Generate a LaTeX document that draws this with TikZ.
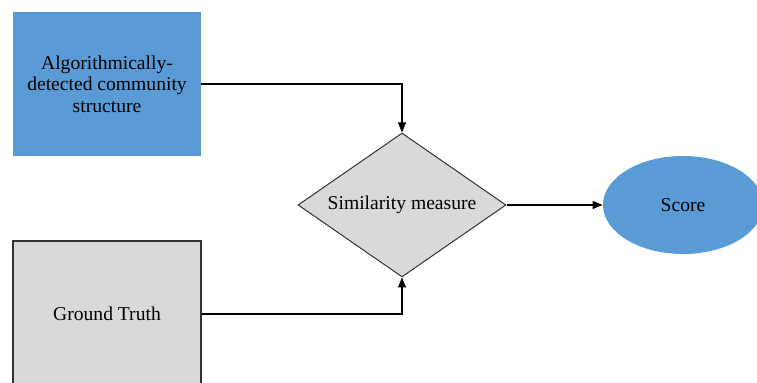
\documentclass[tikz,border=0pt]{standalone}
\usepackage{fontspec}
\setmainfont{Liberation Serif}
\usetikzlibrary{shapes.geometric,arrows.meta}
\usepackage{xcolor}

\begin{document}
\begin{tikzpicture}[x=0.5pt,y=-0.5pt,
		baseBox/.style={rectangle, inner sep=0pt, align=center, font=\fontsize{9.8}{10.8}\selectfont},
		blueBox/.style={baseBox, fill=boxblue, minimum width=94pt, minimum height=72pt},
		grayBox/.style={baseBox, fill=boxgray, draw=bordercolor, line width=0.6pt, minimum width=94pt, minimum height=73pt},
		simDiamond/.style={baseBox, diamond, fill=boxgray, draw=bordercolor, line width=0.5pt, shape aspect=1.444, minimum width=104pt, minimum height=72pt},
		scoreEllipse/.style={baseBox, ellipse, fill=boxblue, minimum width=80pt, minimum height=49pt},
		flow/.style={line width=0.6pt, -{Triangle[length=5pt,width=4pt]}}]
				% Colors
				\definecolor{boxblue}{HTML}{5B9BD5}
				\definecolor{boxgray}{HTML}{D9D9D9}
				\colorlet{bordercolor}{black!80}

				\useasboundingbox (0,0) rectangle (757,383);
				\clip (0,0) rectangle (757,383);

				\node[blueBox] (algo) at (107,84) {Algorithmically-\\detected community\\structure};
				\node[grayBox] (truth) at (107,314) {Ground Truth};
				\node[simDiamond] (sim) at (402,205) {Similarity measure};
				\node[scoreEllipse] (score) at (683,205) {Score};

				\draw[flow] (algo.east) -| (sim.north);
				\draw[flow] (truth.east) -| (sim.south);
				\draw[flow] (sim.east) -- (score.west);

\end{tikzpicture}
\end{document}
